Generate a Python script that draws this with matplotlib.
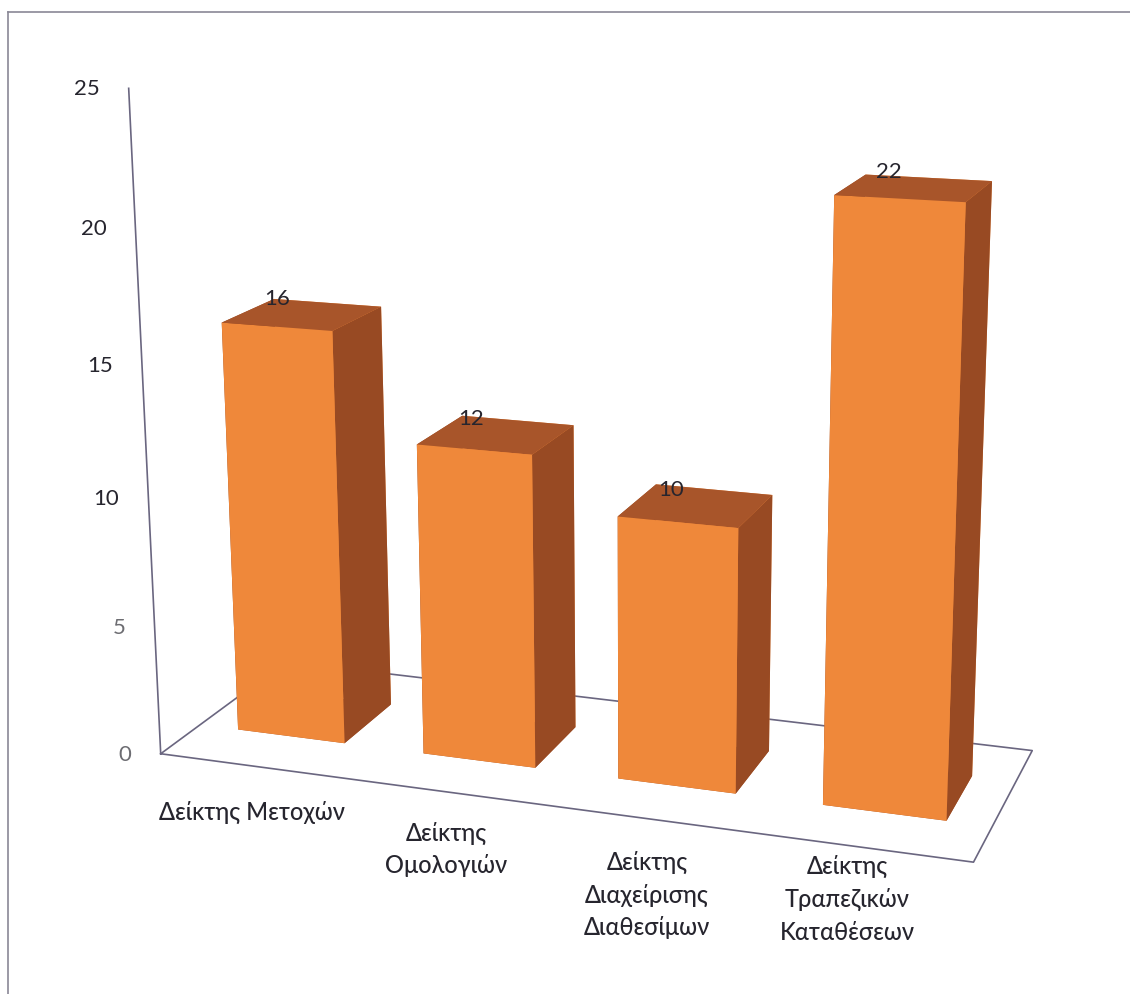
import numpy as np
import matplotlib
matplotlib.use("Agg")
import matplotlib.pyplot as plt
from matplotlib.lines import Line2D
from mpl_toolkits.mplot3d import proj3d

categories = ["Δείκτης Μετοχών", "Δείκτης\nΟμολογιών",
              "Δείκτης\nΔιαχείρισης\nΔιαθεσίμων", "Δείκτης\nΤραπεζικών\nΚαταθέσεων"]
values = [16, 12, 10, 22]
yticks = [0, 5, 10, 15, 20, 25]

front_col = "#ef883a"
top_col = "#a8552a"
side_col = "#984a23"
line_col = "#6a6680"
text_col = "#26252e"

plt.rcParams['font.family'] = ['Lato', 'DejaVu Sans']

fig = plt.figure(figsize=(11.3, 9.95), dpi=100)
ax = fig.add_axes([84 / 1130, 53 / 995, 995 / 1130, 1.0], projection='3d',
                  computed_zorder=False)

n = len(values)
depth = 1.40       # floor depth in category units
ymax = 25
bar_w = 0.58
bar_d = 0.57

ax.set_xlim(0, n)
ax.set_ylim(0, depth)
ax.set_zlim(0, ymax)
ax.set_box_aspect((n, depth, 3.24), zoom=1.105)
ax.set_proj_type('persp', focal_length=0.505)
ax.view_init(elev=14.8, azim=-70.6, roll=0.25)
ax.set_axis_off()


def to2d(x, y, z):
    px, py, _ = proj3d.proj_transform(x, y, z, ax.get_proj())
    return px, py


# floor outline + value axis
ax.plot([0, n, n, 0, 0], [0, 0, depth, depth, 0], [0] * 5, color=line_col, lw=1.2, zorder=1)
ax.plot([0, 0], [0, 0], [0, ymax], color=line_col, lw=1.2, zorder=1)

# bars: faces are -z, +z, -y(front), +y, -x, +x(side)
xs = np.arange(n) + 0.5 - bar_w / 2
y0 = (depth - bar_d) / 2
face_cols = []
for _ in values:
    face_cols += [top_col, top_col, front_col, front_col, side_col, side_col]
ax.bar3d(xs, np.full(n, y0), np.zeros(n), bar_w, bar_d, values,
         color=face_cols, shade=False, linewidth=0, zorder=3)

# data labels, sitting on the top faces
for i, v in enumerate(values):
    ax.annotate(str(v), to2d(i + 0.5, depth / 2, v), xytext=(-25, 17),
                textcoords='offset pixels', ha='center', va='center',
                fontsize=16, color=text_col, zorder=5)

# value axis labels
tick_cols = ['#6d6d72', '#6d6d72', text_col, text_col, text_col, text_col]
for t, c in zip(yticks, tick_cols):
    ax.annotate(str(t), to2d(0, 0, t), xytext=(-29, 0), textcoords='offset pixels',
                ha='right', va='center', fontsize=16, color=c)

# category labels under the front edge of the floor
label_off = [(-2, -34), (0, -29), (-2, -31), (-15, -7)]
for i, c in enumerate(categories):
    ax.annotate(c, to2d(i + 0.5, 0, 0), xytext=label_off[i],
                textcoords='offset pixels', ha='center', va='top',
                multialignment='center', linespacing=1.5, fontsize=17,
                fontweight=500, color=text_col)

# scanned page frame
fig.add_artist(Line2D([8 / 1130, 1], [1 - 13 / 995] * 2, transform=fig.transFigure,
                      color='#8a8896', lw=1.2))
fig.add_artist(Line2D([8 / 1130] * 2, [0, 1 - 13 / 995], transform=fig.transFigure,
                      color='#8a8896', lw=1.2))

fig.savefig("out.png", dpi=100, facecolor='white')
